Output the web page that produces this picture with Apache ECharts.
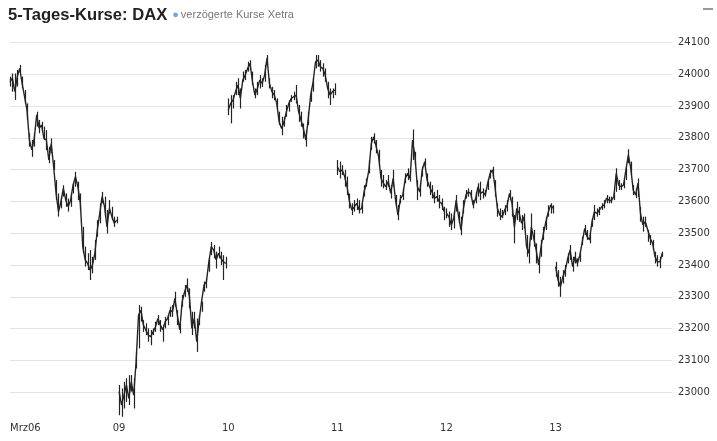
<!DOCTYPE html>
<html><head><meta charset="utf-8">
<script src="https://cdn.jsdelivr.net/npm/echarts@6/dist/echarts.min.js"></script>
<style>html,body{margin:0;padding:0;background:#fff}#c{width:717px;height:441px}</style>
</head><body><div id="c"></div>
<script>
const dayLabels = ["Mrz06", "09", "10", "11", "12", "13"];
const yMin = 22900, yMax = 24200, yStep = 100;
const yLabelMin = 23000, yLabelMax = 24100;

// sampled price (line) per trading day
const day06 = [23976,23987,23945,23992,24018,23971,23929,23887,23793,23762,23798,23872,23830,23840,23798,23793,23730,23782,23709,23625,23568,23599,23641,23604,23583,23604,23651,23678,23646,23594,23458,23416,23405,23384,23400,23437,23510,23562,23615,23583,23520,23578,23552,23531,23541];
const day09 = [23002,22960,22991,23023,22981,23033,22991,23096,23243,23258,23211,23196,23180,23175,23190,23206,23232,23211,23196,23222,23232,23258,23253,23295,23243,23196,23285,23316,23337,23300,23201,23232,23159,23227,23285,23337,23348,23410,23458,23447,23416,23437,23421,23410,23405];
const day10 = [23887,23908,23919,23945,23966,23924,23981,23997,24018,24034,23976,23934,23955,23981,23971,23997,24050,23971,23945,23934,23908,23850,23829,23850,23882,23908,23924,23929,23934,23882,23856,23829,23793,23861,23934,23976,24039,24044,24023,24018,23997,23955,23934,23945,23950];
const day11 = [23709,23693,23699,23678,23646,23599,23573,23583,23594,23573,23578,23630,23657,23699,23782,23803,23772,23741,23672,23657,23646,23662,23625,23672,23604,23557,23609,23620,23672,23688,23672,23793,23741,23646,23630,23699,23725,23667,23646,23630,23609,23615,23599,23594,23568];
const day12 = [23562,23552,23526,23547,23604,23552,23510,23578,23620,23630,23625,23588,23609,23646,23625,23630,23620,23657,23688,23699,23646,23578,23557,23552,23573,23588,23625,23594,23520,23578,23562,23531,23552,23458,23437,23520,23484,23447,23400,23458,23500,23536,23567,23589,23578];
const day13 = [23395,23353,23332,23363,23384,23421,23447,23395,23426,23405,23431,23473,23515,23489,23479,23536,23568,23562,23573,23583,23589,23610,23604,23602,23615,23688,23651,23646,23651,23699,23746,23704,23636,23620,23657,23562,23526,23536,23510,23484,23468,23426,23410,23410,23437];

// intraday highs / lows around each sample
const hi06 = [23992,24002,24002,24013,24029,23992,23950,23908,23814,23793,23814,23882,23856,23850,23835,23824,23772,23798,23730,23667,23625,23615,23651,23625,23609,23625,23657,23693,23662,23625,23520,23458,23437,23447,23426,23479,23541,23594,23630,23615,23573,23604,23583,23552,23552];
const lo06 = [23961,23945,23919,23961,24003,23955,23908,23856,23772,23740,23772,23835,23814,23819,23793,23761,23720,23751,23699,23604,23552,23578,23615,23583,23568,23583,23625,23646,23604,23573,23437,23395,23384,23353,23374,23416,23489,23531,23594,23552,23499,23562,23541,23520,23531];
const hi09 = [23023,23012,23033,23044,23054,23054,23044,23128,23274,23269,23227,23217,23201,23196,23201,23222,23243,23227,23211,23237,23243,23269,23274,23316,23258,23217,23306,23337,23358,23327,23253,23253,23232,23243,23285,23348,23358,23421,23473,23463,23442,23458,23442,23431,23426];
const lo09 = [22928,22923,22949,22970,22960,23002,22949,23075,23138,23222,23190,23180,23159,23148,23180,23190,23211,23190,23159,23201,23211,23237,23237,23269,23211,23185,23269,23300,23316,23264,23180,23201,23127,23211,23253,23316,23327,23379,23431,23421,23389,23421,23400,23353,23389];
const hi10 = [23924,23934,23934,23976,23987,23955,24008,24013,24039,24044,24008,23955,23976,23997,23987,24029,24060,23987,23960,23950,23924,23882,23866,23866,23903,23918,23934,23945,23966,23903,23882,23845,23824,23882,23955,23987,24060,24060,24044,24034,24018,23976,23955,23955,23971];
const lo10 = [23871,23845,23892,23934,23934,23892,23976,23981,24008,24013,23966,23924,23934,23955,23960,23976,24029,23955,23924,23918,23892,23840,23808,23835,23866,23882,23913,23918,23908,23850,23835,23798,23772,23840,23913,23945,24018,24023,24008,23992,23976,23924,23903,23924,23934];
const hi11 = [23730,23725,23714,23699,23678,23625,23594,23604,23609,23604,23594,23651,23672,23730,23803,23814,23793,23762,23699,23683,23667,23683,23651,23699,23620,23589,23620,23641,23688,23704,23699,23826,23756,23667,23657,23709,23735,23688,23662,23651,23630,23636,23620,23609,23583];
const lo11 = [23683,23672,23683,23646,23620,23578,23557,23568,23573,23562,23562,23615,23646,23688,23762,23782,23751,23709,23646,23641,23636,23646,23609,23646,23583,23541,23594,23604,23657,23667,23662,23730,23714,23604,23615,23678,23709,23646,23620,23609,23594,23599,23578,23573,23541];
const hi12 = [23578,23568,23562,23568,23620,23568,23552,23604,23636,23641,23636,23604,23630,23657,23662,23641,23636,23672,23699,23709,23667,23594,23578,23573,23588,23604,23636,23615,23557,23599,23583,23557,23562,23494,23468,23562,23510,23468,23426,23479,23520,23552,23588,23594,23588];
const lo12 = [23547,23520,23510,23515,23568,23531,23494,23562,23609,23615,23609,23578,23594,23615,23604,23609,23615,23636,23672,23678,23615,23552,23541,23547,23557,23568,23604,23552,23468,23541,23536,23510,23515,23426,23405,23479,23458,23405,23374,23426,23479,23510,23552,23562,23562];
const hi13 = [23410,23384,23363,23384,23400,23437,23463,23426,23442,23421,23442,23489,23526,23510,23499,23547,23589,23578,23583,23594,23604,23620,23615,23615,23630,23704,23667,23657,23667,23709,23764,23725,23651,23641,23672,23583,23552,23552,23510,23494,23479,23442,23431,23426,23442];
const lo13 = [23363,23332,23300,23342,23363,23405,23416,23379,23405,23395,23410,23463,23494,23479,23468,23520,23541,23552,23557,23573,23578,23594,23594,23594,23604,23630,23636,23636,23641,23667,23720,23683,23620,23610,23615,23536,23505,23520,23473,23463,23447,23405,23395,23390,23426];

const days = [day06, day09, day10, day11, day12, day13];
const highs = [hi06, hi09, hi10, hi11, hi12, hi13];
const lows = [lo06, lo09, lo10, lo11, lo12, lo13];
const PER = 45;
const TAIL = 4;
const total = PER * days.length + TAIL;

const categories = [];
for (let i = 0; i < total; i++) {
  const d = Math.floor(i / PER);
  categories.push(i % PER === 0 && d < dayLabels.length ? dayLabels[d] : '');
}

const LINE = '#242424';
const series = days.map((vals, d) => {
  const arr = new Array(total).fill(null);
  vals.forEach((v, i) => { arr[d * PER + i] = v; });
  return {
    type: 'line', data: arr, showSymbol: false, connectNulls: false,
    lineStyle: { color: LINE, width: 1.4 }, silent: true, animation: false
  };
});

const wickData = [];
days.forEach((vals, d) => {
  vals.forEach((v, i) => { wickData.push([d * PER + i, lows[d][i], highs[d][i]]); });
});
series.push({
  type: 'custom', silent: true, animation: false,
  data: wickData,
  encode: { x: 0, y: [1, 2] },
  renderItem: (params, api) => {
    const p1 = api.coord([api.value(0), api.value(1)]);
    const p2 = api.coord([api.value(0), api.value(2)]);
    const x = Math.round(p1[0]) + 0.5;
    return {
      type: 'line',
      shape: { x1: x, y1: p1[1], x2: x, y2: p2[1] },
      style: { stroke: LINE, lineWidth: 1.2 }
    };
  }
});

const chart = echarts.init(document.getElementById('c'), null, { renderer: 'canvas' });
chart.setOption({
  animation: false,
  backgroundColor: '#fff',
  title: {
    left: 3, top: 1,
    text: '{t|5-Tages-Kurse: DAX} {d|●}{s|verzögerte Kurse Xetra}',
    textStyle: {
      rich: {
        t: { fontFamily: 'Liberation Sans, Arial', fontWeight: 'bold', fontSize: 16.6, color: '#222' },
        d: { fontSize: 11, color: '#6fa8e8', verticalAlign: 'middle', fontWeight: 'normal', padding: [0, 2, 0, 0] },
        s: { fontFamily: 'Liberation Sans, Arial', fontWeight: 'normal', fontSize: 11, color: '#777' }
      }
    }
  },
  graphic: [{ type: 'rect', right: 4, top: 8, shape: { width: 10, height: 2 }, style: { fill: '#999' } }],
  grid: { left: 10, right: 45, top: 10.5, bottom: 16.9 },
  xAxis: {
    type: 'category', data: categories, boundaryGap: false,
    axisLine: { show: false }, axisTick: { show: false },
    axisLabel: {
      interval: (idx, val) => val !== '', margin: -1,
      fontFamily: 'DejaVu Sans', fontSize: 10, color: '#333',
      alignMinLabel: 'left'
    },
    splitLine: { show: false }
  },
  yAxis: {
    type: 'value', position: 'right', min: yMin, max: yMax, interval: yStep,
    axisLine: { show: false }, axisTick: { show: false },
    axisLabel: {
      margin: 6, fontFamily: 'DejaVu Sans', fontSize: 10, color: '#333',
      showMinLabel: false, showMaxLabel: false,
      formatter: v => (v < yLabelMin || v > yLabelMax) ? '' : String(v)
    },
    splitLine: { show: true, showMinLine: false, showMaxLine: false, lineStyle: { color: '#e3e3e3', width: 1 } }
  },
  series: series
});
</script>
</body></html>
